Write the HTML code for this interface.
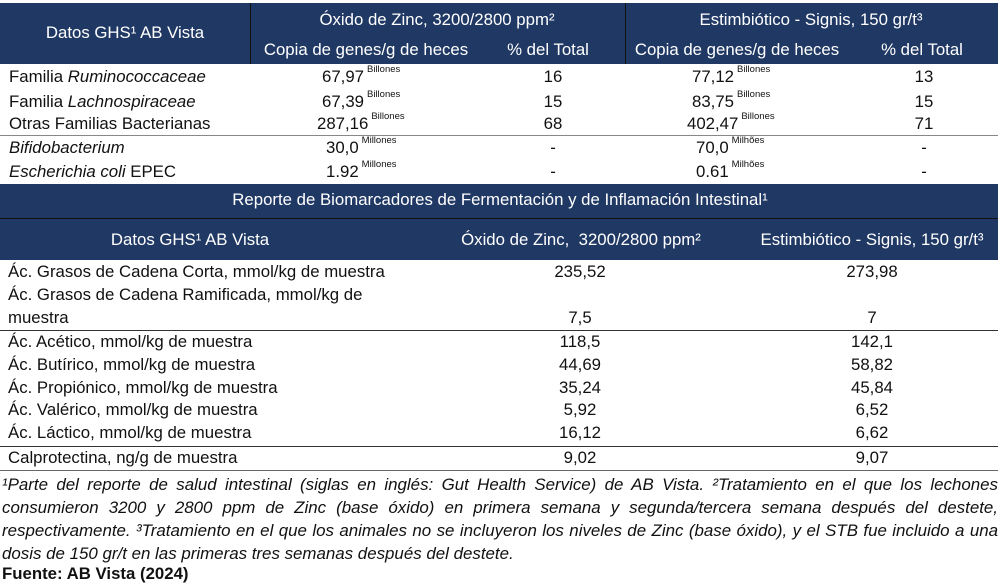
<!DOCTYPE html>
<html><head><meta charset="utf-8"><style>
body{margin:0;width:1000px;height:584px;background:#fff;position:relative;overflow:hidden;font-family:"Liberation Sans",sans-serif;color:#111;}
.a{position:absolute;white-space:nowrap;font-size:16.8px;line-height:20px;}
.c{transform:translateX(-50%);}
.w{color:#fff;}
.b{position:absolute;background:#203864;}
.l{position:absolute;left:0;width:998px;height:1px;background:#333;}
sup{font-size:9.5px;vertical-align:top;line-height:8px;margin-left:3px;position:relative;top:-1px;}
.fn{position:absolute;left:2px;top:473px;width:996px;font-size:16.9px;line-height:23px;font-style:italic;text-align:justify;text-align-last:left;}
</style></head><body>
<div class="b" style="left:0;top:3px;width:998px;height:61px"></div>
<div class="b" style="left:250px;top:3px;width:1px;height:61px;background:#111"></div>
<div class="b" style="left:625px;top:3px;width:1px;height:61px;background:#111"></div>
<div class="a w c" style="left:125px;top:23px">Datos GHS¹ AB Vista</div>
<div class="a w c" style="left:437px;top:10px">Óxido de Zinc, 3200/2800 ppm²</div>
<div class="a w c" style="left:811px;top:10px">Estimbiótico - Signis, 150 gr/t³</div>
<div class="a w c" style="left:366px;top:40px">Copia de genes/g de heces</div>
<div class="a w c" style="left:548px;top:40px">% del Total</div>
<div class="a w c" style="left:737px;top:40px">Copia de genes/g de heces</div>
<div class="a w c" style="left:922px;top:40px">% del Total</div>

<div class="a" style="left:9px;top:67px">Familia <i>Ruminococcaceae</i></div>
<div class="a" style="left:9px;top:92px">Familia <i>Lachnospiraceae</i></div>
<div class="a" style="left:9px;top:114px">Otras Familias Bacterianas</div>
<div class="l" style="top:135px;background:#888"></div>
<div class="a" style="left:9px;top:138px"><i>Bifidobacterium</i></div>
<div class="a" style="left:9px;top:162px"><i>Escherichia coli</i> EPEC</div>

<div class="a" style="left:322px;top:67px">67,97<sup>Billones</sup></div>
<div class="a" style="left:322px;top:92px">67,39<sup>Billones</sup></div>
<div class="a" style="left:317px;top:114px">287,16<sup>Billones</sup></div>
<div class="a" style="left:326px;top:138px">30,0<sup>Millones</sup></div>
<div class="a" style="left:326px;top:162px">1.92<sup>Millones</sup></div>
<div class="a c" style="left:553px;top:67px">16</div>
<div class="a c" style="left:553px;top:92px">15</div>
<div class="a c" style="left:553px;top:114px">68</div>
<div class="a c" style="left:553px;top:138px">-</div>
<div class="a c" style="left:553px;top:162px">-</div>
<div class="a" style="left:692px;top:67px">77,12<sup>Billones</sup></div>
<div class="a" style="left:692px;top:92px">83,75<sup>Billones</sup></div>
<div class="a" style="left:687px;top:114px">402,47<sup>Billones</sup></div>
<div class="a" style="left:696px;top:138px">70,0<sup>Milhões</sup></div>
<div class="a" style="left:696px;top:162px">0.61<sup>Milhões</sup></div>
<div class="a c" style="left:924px;top:67px">13</div>
<div class="a c" style="left:924px;top:92px">15</div>
<div class="a c" style="left:924px;top:114px">71</div>
<div class="a c" style="left:924px;top:138px">-</div>
<div class="a c" style="left:924px;top:162px">-</div>

<div class="b" style="left:0;top:184px;width:998px;height:76px"></div>
<div class="b" style="left:0;top:218px;width:998px;height:1px;background:#111"></div>
<div class="a w c" style="left:500px;top:190px">Reporte de Biomarcadores de Fermentación y de Inflamación Intestinal¹</div>
<div class="a w c" style="left:190px;top:230px">Datos GHS¹ AB Vista</div>
<div class="a w c" style="left:581px;top:230px">Óxido de Zinc,&nbsp; 3200/2800 ppm²</div>
<div class="a w c" style="left:872px;top:230px">Estimbiótico - Signis, 150 gr/t³</div>

<div class="a" style="left:8px;top:262px">Ác. Grasos de Cadena Corta, mmol/kg de muestra</div>
<div class="a" style="left:8px;top:285px">Ác. Grasos de Cadena Ramificada, mmol/kg de</div>
<div class="a" style="left:8px;top:308px">muestra</div>
<div class="l" style="top:330px"></div>
<div class="a" style="left:8px;top:332px">Ác. Acético, mmol/kg de muestra</div>
<div class="a" style="left:8px;top:355px">Ác. Butírico, mmol/kg de muestra</div>
<div class="a" style="left:8px;top:378px">Ác. Propiónico, mmol/kg de muestra</div>
<div class="a" style="left:8px;top:400px">Ác. Valérico, mmol/kg de muestra</div>
<div class="a" style="left:8px;top:423px">Ác. Láctico, mmol/kg de muestra</div>
<div class="l" style="top:446px"></div>
<div class="a" style="left:8px;top:448px">Calprotectina, ng/g de muestra</div>
<div class="l" style="top:470px;background:#666"></div>

<div class="a c" style="left:580px;top:262px">235,52</div>
<div class="a c" style="left:580px;top:308px">7,5</div>
<div class="a c" style="left:580px;top:332px">118,5</div>
<div class="a c" style="left:580px;top:355px">44,69</div>
<div class="a c" style="left:580px;top:378px">35,24</div>
<div class="a c" style="left:580px;top:400px">5,92</div>
<div class="a c" style="left:580px;top:423px">16,12</div>
<div class="a c" style="left:580px;top:448px">9,02</div>
<div class="a c" style="left:872px;top:262px">273,98</div>
<div class="a c" style="left:872px;top:308px">7</div>
<div class="a c" style="left:872px;top:332px">142,1</div>
<div class="a c" style="left:872px;top:355px">58,82</div>
<div class="a c" style="left:872px;top:378px">45,84</div>
<div class="a c" style="left:872px;top:400px">6,52</div>
<div class="a c" style="left:872px;top:423px">6,62</div>
<div class="a c" style="left:872px;top:448px">9,07</div>

<div class="fn">¹Parte del reporte de salud intestinal (siglas en inglés: Gut Health Service) de AB Vista. ²Tratamiento en el que los lechones consumieron 3200 y 2800 ppm de Zinc (base óxido) en primera semana y segunda/tercera semana después del destete, respectivamente. ³Tratamiento en el que los animales no se incluyeron los niveles de Zinc (base óxido), y el STB fue incluido a una dosis de 150 gr/t en las primeras tres semanas después del destete.</div>
<div class="a" style="left:2px;top:564px;font-weight:bold">Fuente: AB Vista (2024)</div>
</body></html>
